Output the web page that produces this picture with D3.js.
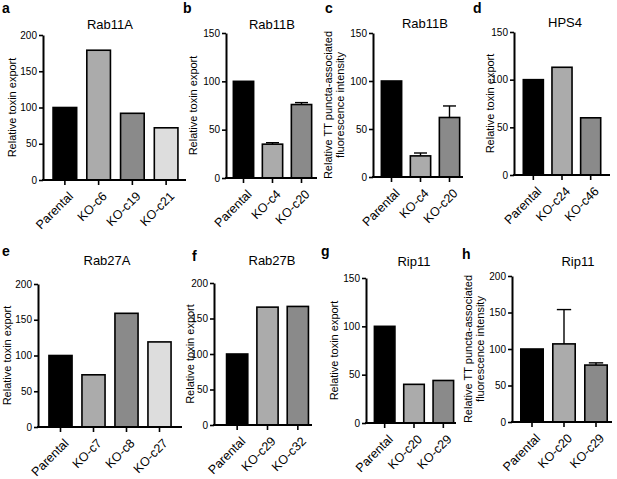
<!DOCTYPE html>
<html>
<head>
<meta charset="utf-8">
<script src="https://cdn.jsdelivr.net/npm/d3@7"></script>
<style>
  body { margin: 0; background: #fff; }
  svg { display: block; font-family: "Liberation Sans", Arial, Helvetica, sans-serif; }
</style>
</head>
<body>
<svg id="fig" width="617" height="479"></svg>
<script>
// values (percent of parental)
const catsA = ['Parental', 'KO-c6', 'KO-c19', 'KO-c21'];
const valsA = [100, 179, 92, 72];

const catsB = ['Parental', 'KO-c4', 'KO-c20'];
const valsB = [100, 35, 76];
const errB = [0, 1.5, 2];

const catsC = ['Parental', 'KO-c4', 'KO-c20'];
const valsC = [100, 22, 62];
const errC = [0, 3, 12];

const catsD = ['Parental', 'KO-c24', 'KO-c46'];
const valsD = [100, 113, 60];

const catsE = ['Parental', 'KO-c7', 'KO-c8', 'KO-c27'];
const valsE = [100, 73, 159, 119];

const catsF = ['Parental', 'KO-c29', 'KO-c32'];
const valsF = [100, 166, 167];

const catsG = ['Parental', 'KO-c20', 'KO-c29'];
const valsG = [100, 40, 44];

const catsH = ['Parental', 'KO-c20', 'KO-c29'];
const valsH = [100, 107, 78];
const errH = [0, 47, 3];

const exportLabel = ['Relative toxin export'];
const punctaLabel = ['Relative TT puncta-associated', 'fluorescence intensity'];

const fills = ['#000000', '#ababab', '#8a8a8a', '#dddddd'];

// layout of each panel (pixels)
const panels = [
    { letter: 'a', title: 'Rab11A', cats: catsA, vals: valsA, err: null, max: 200, ylab: exportLabel,
      ax: 43, ae: 186, y0: 180, yTop: 35, band: [48, 183], tx: 110, ty: 29, lx: 2, ly: 13, ylx: 12 },
    { letter: 'b', title: 'Rab11B', cats: catsB, vals: valsB, err: errB, max: 150, ylab: exportLabel,
      ax: 226, ae: 317, y0: 178, yTop: 33, band: [229, 316], tx: 272, ty: 29, lx: 183, ly: 13, ylx: 193 },
    { letter: 'c', title: 'Rab11B', cats: catsC, vals: valsC, err: errC, max: 150, ylab: punctaLabel,
      ax: 373, ae: 463, y0: 177, yTop: 33, band: [377, 464], tx: 425, ty: 28, lx: 325, ly: 13, ylx: 334 },
    { letter: 'd', title: 'HPS4', cats: catsD, vals: valsD, err: null, max: 150, ylab: exportLabel,
      ax: 514, ae: 610, y0: 175, yTop: 32, band: [519, 605], tx: 565, ty: 27, lx: 473, ly: 13, ylx: 490 },
    { letter: 'e', title: 'Rab27A', cats: catsE, vals: valsE, err: null, max: 200, ylab: exportLabel,
      ax: 38, ae: 182, y0: 427, yTop: 284, band: [44, 176], tx: 107, ty: 265, lx: 2, ly: 256, ylx: 7 },
    { letter: 'f', title: 'Rab27B', cats: catsF, vals: valsF, err: null, max: 200, ylab: exportLabel,
      ax: 214, ae: 312, y0: 425, yTop: 283, band: [222, 313], tx: 272, ty: 265, lx: 192, ly: 261, ylx: 190 },
    { letter: 'g', title: 'Rip11', cats: catsG, vals: valsG, err: null, max: 150, ylab: exportLabel,
      ax: 366, ae: 456, y0: 423, yTop: 278, band: [370, 458], tx: 414, ty: 266, lx: 321, ly: 256, ylx: 334 },
    { letter: 'h', title: 'Rip11', cats: catsH, vals: valsH, err: errH, max: 200, ylab: punctaLabel,
      ax: 512, ae: 612, y0: 422, yTop: 276, band: [516, 612], tx: 578, ty: 266, lx: 462, ly: 259, ylx: 474 }
];

const svg = d3.select('#fig');

panels.forEach(p => {
    const g = svg.append('g');

    const y = d3.scaleLinear().domain([0, p.max]).range([p.y0, p.yTop]);
    const x = d3.scaleBand().domain(p.cats).range(p.band).paddingInner(0.3).paddingOuter(0.15);

    // bars
    g.selectAll('rect.bar')
        .data(p.vals)
        .enter()
        .append('rect')
        .attr('class', 'bar')
        .attr('x', (d, i) => x(p.cats[i]))
        .attr('width', x.bandwidth())
        .attr('y', d => y(d))
        .attr('height', d => y(0) - y(d))
        .attr('fill', (d, i) => fills[i])
        .attr('stroke', '#000')
        .attr('stroke-width', 1.6);

    // error bars (upper only)
    if (p.err) {
        const eb = g.selectAll('g.err')
            .data(p.vals.map((v, i) => ({ v: v, e: p.err[i], c: p.cats[i] })).filter(d => d.e > 0))
            .enter()
            .append('g')
            .attr('class', 'err')
            .attr('stroke', '#000')
            .attr('stroke-width', 1.4);
        eb.append('line')
            .attr('x1', d => x(d.c) + x.bandwidth() / 2)
            .attr('x2', d => x(d.c) + x.bandwidth() / 2)
            .attr('y1', d => y(d.v))
            .attr('y2', d => y(d.v + d.e));
        eb.append('line')
            .attr('x1', d => x(d.c) + x.bandwidth() * 0.18)
            .attr('x2', d => x(d.c) + x.bandwidth() * 0.82)
            .attr('y1', d => y(d.v + d.e))
            .attr('y2', d => y(d.v + d.e));
    }

    // y axis
    const yAxis = g.append('g')
        .attr('transform', `translate(${p.ax},0)`)
        .call(d3.axisLeft(y).tickValues(d3.range(0, p.max + 1, 50)).tickSize(4).tickPadding(2).tickSizeOuter(0));
    yAxis.select('.domain').attr('stroke-width', 2);
    yAxis.selectAll('.tick line').attr('stroke-width', 1.6);
    yAxis.selectAll('.tick text').style('font-size', '10px').attr('fill', '#000');

    // x axis
    const xAxis = g.append('g')
        .attr('transform', `translate(0,${p.y0})`)
        .call(d3.axisBottom(x).tickSize(5).tickSizeOuter(0));
    xAxis.select('.domain').remove();
    xAxis.append('line')
        .attr('x1', p.ax - 1)
        .attr('x2', p.ae)
        .attr('stroke', '#000')
        .attr('stroke-width', 2);
    xAxis.selectAll('.tick line').attr('stroke-width', 1.6);
    xAxis.selectAll('.tick text')
        .attr('x', 0)
        .attr('y', 0)
        .attr('dy', 0)
        .attr('transform', 'translate(9,17) rotate(-45)')
        .attr('text-anchor', 'end')
        .attr('fill', '#000')
        .style('font-size', '12.5px');

    // y label
    const yl = g.append('text')
        .attr('transform', `translate(${p.ylx},${(p.y0 + p.yTop) / 2}) rotate(-90)`)
        .attr('text-anchor', 'middle')
        .style('font-size', '11px')
        .attr('fill', '#000');
    yl.selectAll('tspan')
        .data(p.ylab)
        .enter()
        .append('tspan')
        .attr('x', 0)
        .attr('dy', (d, i) => i === 0 ? (p.ylab.length > 1 ? '-0.15em' : '0.35em') : '1.05em')
        .text(d => d);

    // title
    g.append('text')
        .attr('x', p.tx)
        .attr('y', p.ty)
        .attr('text-anchor', 'middle')
        .style('font-size', '13px')
        .text(p.title);

    // panel letter
    g.append('text')
        .attr('x', p.lx)
        .attr('y', p.ly)
        .style('font-size', '14px')
        .style('font-weight', 'bold')
        .text(p.letter);
});
</script>
</body>
</html>
